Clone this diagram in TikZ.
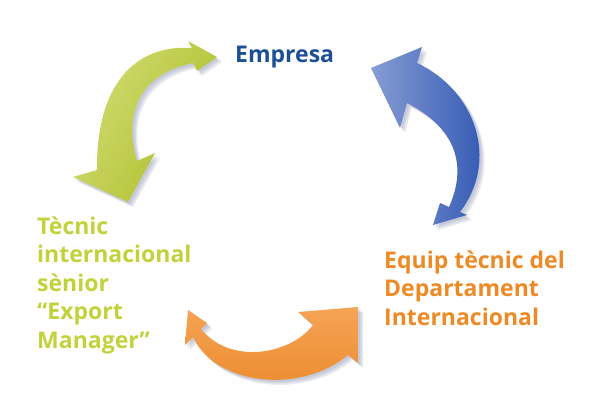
\documentclass[tikz,border=0pt]{standalone}
\usepackage{fontspec}
\setmainfont{Open Sans}
\definecolor{empblue}{HTML}{1D4F96}
\definecolor{txtgreen}{HTML}{C2D23A}
\definecolor{txtorange}{HTML}{EE8A25}
\definecolor{grA}{HTML}{D2DC74}
\definecolor{grB}{HTML}{ADBE28}
\definecolor{blA}{HTML}{869CD3}
\definecolor{blB}{HTML}{2A52B0}
\definecolor{orA}{HTML}{F5A455}
\definecolor{orB}{HTML}{EC8A2C}
\definecolor{shad}{HTML}{8088A8}
\tikzset{
  lbl/.style={inner sep=0pt, font=\bfseries\fontsize{23}{28.5}\selectfont, align=left},
  shd/.style={fill=shad, opacity=0.18},
}
\begin{document}
\begin{tikzpicture}[x=1pt,y=-1pt]
\useasboundingbox (0,0) rectangle (600,417);
% paths
\def\greenpath{(192,48) .. controls (135,44) and (96,85) .. (97,170) -- (73,177) -- (128,202) -- (155,153) -- (137,161) .. controls (126,125) and (130,76) .. (193,63) -- (197,71) -- (217,57) -- (188,41) -- cycle}
\def\bluepath{(417,63) .. controls (475,90) and (500,160) .. (460,212) -- (467,215) -- (433,225) -- (440,203) -- (449,207) .. controls (470,160) and (450,125) .. (407,103) -- (400,128) -- (371,68) -- (422,47) -- cycle}
\def\orangepath{(193,337) .. controls (215,385) and (300,395) .. (348,355) -- (358,363) -- (358,307) -- (298,312) -- (313,325) .. controls (290,355) and (230,365) .. (201,329) -- (207,323) -- (188,310) -- (185,345) -- cycle}
% shadows
\foreach \d in {2,3.5,5}{
  \fill[shd, shift={(\d,\d)}] \greenpath;
  \fill[shd, shift={(\d,\d)}] \bluepath;
  \fill[shd, shift={(\d,\d)}] \orangepath;
}
% arrows
\shade[left color=grA, right color=grB, shading angle=60] \greenpath;
\shade[left color=blA, right color=blB] \bluepath;
\shade[top color=orA, bottom color=orB] \orangepath;
% labels (base anchor = baseline of the last line)
\node[lbl, text=empblue, anchor=base west] (emp) at (235,63) {Empresa};
\node[lbl, text=txtgreen, anchor=base west] (tec) at (37,348) {Tècnic\\internacional\\sènior\\“Export\\Manager”};
\node[lbl, text=txtorange, anchor=base west] (eq) at (384,325) {Equip tècnic del\\Departament\\Internacional};
\end{tikzpicture}
\end{document}
